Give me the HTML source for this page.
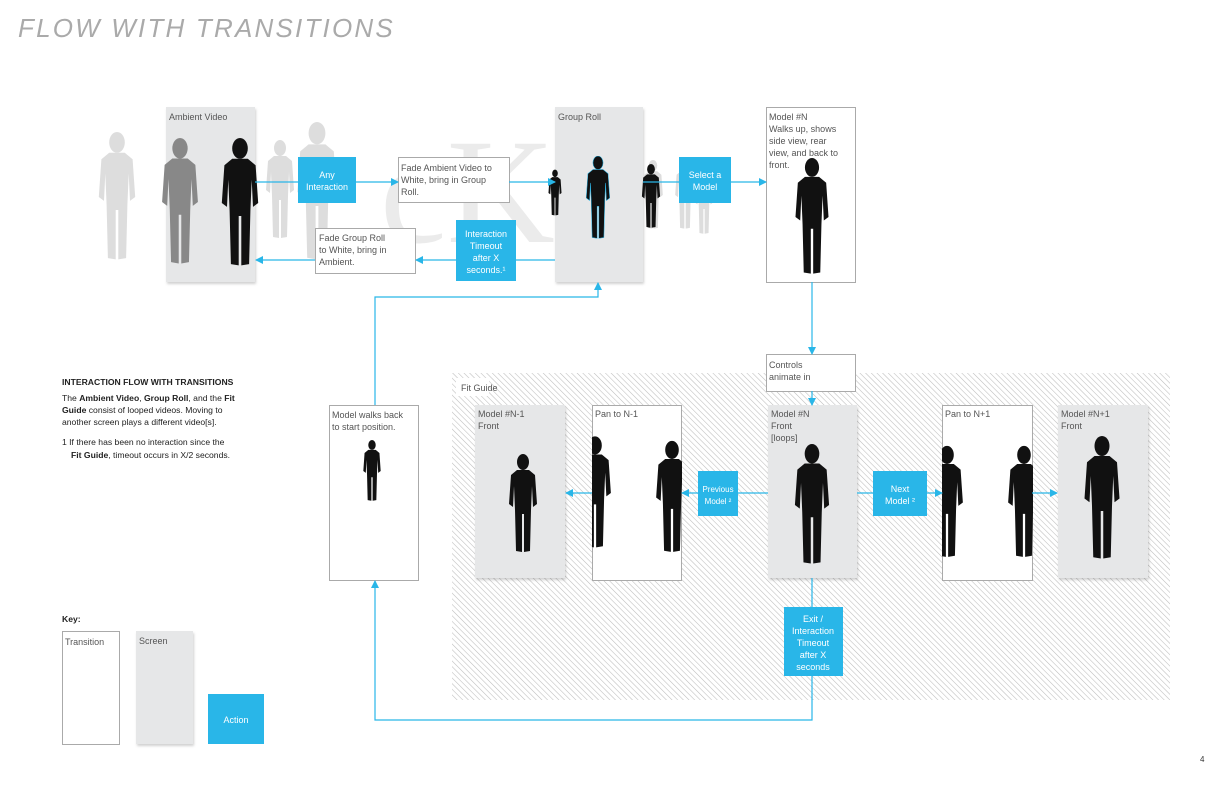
<!DOCTYPE html>
<html><head><meta charset="utf-8"><style>
html,body{margin:0;padding:0;background:#fff;}
svg{display:block;font-family:"Liberation Sans",sans-serif;}
.t{font-size:9px;fill:#555;}
.w{font-size:9px;fill:#fff;}
</style></head><body>
<svg width="1224" height="792" viewBox="0 0 1224 792" xmlns="http://www.w3.org/2000/svg">
<defs>
<pattern id="h" width="4" height="4" patternUnits="userSpaceOnUse" patternTransform="rotate(-45)">
<rect width="4" height="4" fill="#fff"/><line x1="0" y1="0" x2="0" y2="4" stroke="#bdbdbd" stroke-width="1.1"/></pattern>
<symbol id="p" viewBox="-15 0 30 100">
<ellipse cx="0" cy="8" rx="6" ry="8"/>
<path d="M-6,16 L6,16 L12,21 L14,50 L10,53 L9,32 L8,56 L7,97 L1,98 L1,60 L-1,60 L-1,98 L-7,97 L-8,56 L-9,32 L-10,53 L-14,50 L-12,21 Z"/>
</symbol>
<marker id="a" markerWidth="8" markerHeight="8" refX="7" refY="4" orient="auto" markerUnits="userSpaceOnUse"><path d="M0,0 L8,4 L0,8 Z" fill="#29b6e8"/></marker>
<filter id="s" x="-5%" y="-5%" width="115%" height="115%"><feDropShadow dx="1" dy="2" stdDeviation="1.2" flood-color="#000" flood-opacity="0.18"/></filter>
</defs>

<text x="18" y="37" font-size="26" font-style="italic" fill="#aaa" letter-spacing="2.3" textLength="377">FLOW WITH TRANSITIONS</text>

<!-- background faded figures -->
<text x="380" y="242" font-family="Liberation Serif,serif" font-size="150" fill="#ebebeb">cK</text>
<g fill="#ddd">
<use href="#p" x="95" y="132" width="44" height="130"/>
<use href="#p" x="260" y="140" width="40" height="100"/>
<use href="#p" x="296" y="122" width="42" height="140"/>
<use href="#p" x="640" y="160" width="26" height="70"/>
<use href="#p" x="672" y="160" width="26" height="70"/>
<use href="#p" x="692" y="170" width="24" height="65"/>
</g>

<!-- fit guide area -->
<rect x="452" y="373" width="718" height="327" fill="url(#h)"/>
<rect x="456" y="378" width="33" height="18" fill="#fff"/>
<text class="t" x="461" y="391">Fit Guide</text>

<!-- screens -->
<g filter="url(#s)" fill="#e6e7e8">
<rect x="166" y="107" width="89" height="175"/>
<rect x="555" y="107" width="88" height="175"/>
<rect x="475" y="405" width="90" height="173"/>
<rect x="768" y="405" width="89" height="173"/>
<rect x="1058" y="405" width="90" height="173"/>
<rect x="136" y="631" width="57" height="113"/>
</g>
<!-- transitions -->
<g fill="#fff" stroke="#aaa" stroke-width="1">
<rect x="398.5" y="157.5" width="111" height="45"/>
<rect x="315.5" y="228.5" width="100" height="45"/>
<rect x="766.5" y="107.5" width="89" height="175"/>
<rect x="766.5" y="354.5" width="89" height="37"/>
<rect x="592.5" y="405.5" width="89" height="175"/>
<rect x="942.5" y="405.5" width="90" height="175"/>
<rect x="329.5" y="405.5" width="89" height="175"/>
<rect x="62.5" y="631.5" width="57" height="113"/>
</g>

<!-- figures -->
<g fill="#888"><use href="#p" x="160" y="138" width="40" height="128"/></g>
<g fill="#111">
<use href="#p" x="218" y="138" width="44" height="130"/>
<use href="#p" x="548" y="160" width="14" height="66"/>
<use href="#p" x="641" y="164" width="20" height="65"/>
</g>
<g fill="#111" stroke="#29b6e8" stroke-width="0.6"><use href="#p" x="582" y="156" width="32" height="84"/></g>
<g fill="#111">
<use href="#p" x="784" y="158" width="56" height="118"/>
<use href="#p" x="498" y="454" width="50" height="100"/>
<use href="#p" x="578" y="428" width="34" height="130"/>
<use href="#p" x="655" y="440" width="34" height="115"/>
<use href="#p" x="785" y="444" width="54" height="122"/>
<use href="#p" x="930" y="440" width="34" height="125"/>
<use href="#p" x="1007" y="440" width="34" height="125"/>
<use href="#p" x="1074" y="436" width="56" height="125"/>
<use href="#p" x="360" y="440" width="24" height="62"/>
</g>
<rect x="570" y="405" width="22" height="176" fill="url(#h)"/>
<rect x="682" y="405" width="14" height="176" fill="url(#h)"/>
<rect x="920" y="405" width="22" height="176" fill="url(#h)"/>
<rect x="1033" y="405" width="12" height="176" fill="url(#h)"/>

<!-- connectors -->
<g stroke="#29b6e8" stroke-width="1.2" fill="none">
<line x1="255" y1="182" x2="398" y2="182" marker-end="url(#a)"/>
<line x1="509" y1="182" x2="555" y2="182" marker-end="url(#a)"/>
<line x1="643" y1="182" x2="766" y2="182" marker-end="url(#a)"/>
<line x1="555" y1="260" x2="416" y2="260" marker-end="url(#a)"/>
<line x1="315" y1="260" x2="256" y2="260" marker-end="url(#a)"/>
<line x1="812" y1="282" x2="812" y2="354" marker-end="url(#a)"/>
<line x1="812" y1="391" x2="812" y2="405" marker-end="url(#a)"/>
<line x1="768" y1="493" x2="682" y2="493" marker-end="url(#a)"/>
<line x1="592" y1="493" x2="566" y2="493" marker-end="url(#a)"/>
<line x1="857" y1="493" x2="942" y2="493" marker-end="url(#a)"/>
<line x1="1032" y1="493" x2="1057" y2="493" marker-end="url(#a)"/>
<polyline points="812,578 812,720 375,720 375,581" marker-end="url(#a)"/>
<polyline points="375,405 375,297 598,297 598,283" marker-end="url(#a)"/>
</g>

<!-- actions -->
<g fill="#29b6e8">
<rect x="298" y="157" width="58" height="46"/>
<rect x="456" y="220" width="60" height="61"/>
<rect x="679" y="157" width="52" height="46"/>
<rect x="698" y="471" width="40" height="45"/>
<rect x="873" y="471" width="54" height="45"/>
<rect x="784" y="607" width="59" height="69"/>
<rect x="208" y="694" width="56" height="50"/>
</g>
<g class="w" text-anchor="middle">
<text x="327" y="178">Any</text><text x="327" y="190">Interaction</text>
<text x="486" y="237">Interaction</text><text x="486" y="249">Timeout</text><text x="486" y="261">after X</text><text x="486" y="273">seconds.¹</text>
<text x="705" y="178">Select a</text><text x="705" y="190">Model</text>
<text x="718" y="492" font-size="8">Previous</text><text x="718" y="504" font-size="8">Model ²</text>
<text x="900" y="492">Next</text><text x="900" y="504">Model ²</text>
<text x="813" y="622">Exit /</text><text x="813" y="634">Interaction</text><text x="813" y="646">Timeout</text><text x="813" y="658">after X</text><text x="813" y="670">seconds</text>
<text x="236" y="723">Action</text>
</g>

<!-- labels -->
<g class="t">
<text x="169" y="120">Ambient Video</text>
<text x="558" y="120">Group Roll</text>
<text x="401" y="171">Fade Ambient Video to</text><text x="401" y="183">White, bring in Group</text><text x="401" y="195">Roll.</text>
<text x="319" y="241">Fade Group Roll</text><text x="319" y="253">to White, bring in</text><text x="319" y="265">Ambient.</text>
<text x="769" y="120">Model #N</text><text x="769" y="132">Walks up, shows</text><text x="769" y="144">side view, rear</text><text x="769" y="156">view, and back to</text><text x="769" y="168">front.</text>
<text x="769" y="368">Controls</text><text x="769" y="380">animate in</text>
<text x="478" y="417">Model #N-1</text><text x="478" y="429">Front</text>
<text x="595" y="417">Pan to N-1</text>
<text x="771" y="417">Model #N</text><text x="771" y="429">Front</text><text x="771" y="441">[loops]</text>
<text x="945" y="417">Pan to N+1</text>
<text x="1061" y="417">Model #N+1</text><text x="1061" y="429">Front</text>
<text x="332" y="418">Model walks back</text><text x="332" y="430">to start position.</text>
<text x="65" y="645">Transition</text>
<text x="139" y="644">Screen</text>
</g>

<g font-size="8.6" fill="#222">
<text x="62" y="385" font-weight="bold">INTERACTION FLOW WITH TRANSITIONS</text>
<text x="62" y="401">The <tspan font-weight="bold">Ambient Video</tspan>, <tspan font-weight="bold">Group Roll</tspan>, and the <tspan font-weight="bold">Fit</tspan></text>
<text x="62" y="413"><tspan font-weight="bold">Guide</tspan> consist of looped videos. Moving to</text>
<text x="62" y="425">another screen plays a different video[s].</text>
<text x="62" y="445">1  If there has been no interaction since the</text>
<text x="71" y="458"><tspan font-weight="bold">Fit Guide</tspan>, timeout occurs in X/2 seconds.</text>
<text x="62" y="622" font-weight="bold">Key:</text>
</g>
<text x="1200" y="762" font-size="8" fill="#333">4</text>
</svg>
</body></html>
